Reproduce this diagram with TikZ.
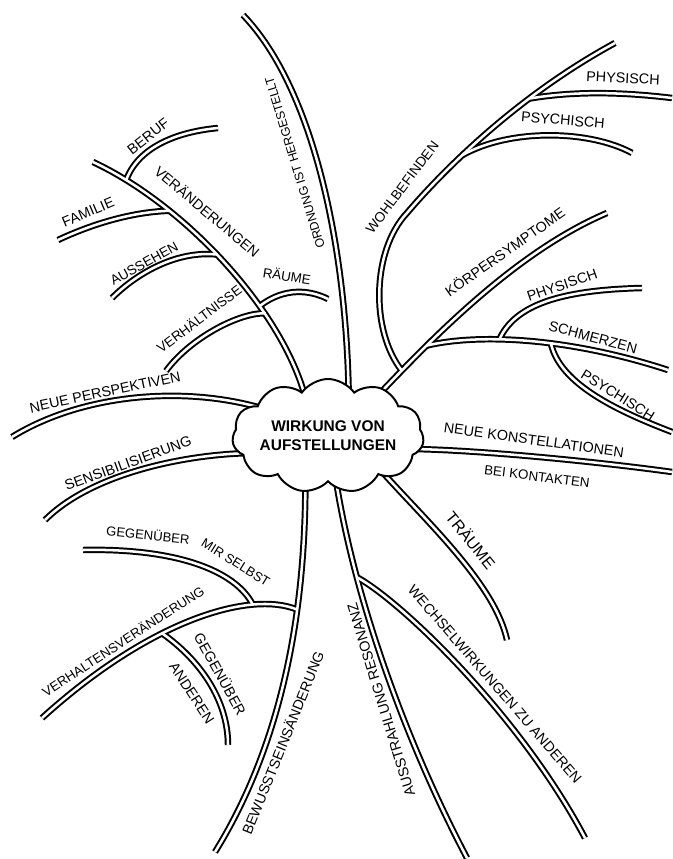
\documentclass[tikz,border=0pt]{standalone}
\usepackage{fontspec}
\newfontfamily\handfont{Liberation Sans}
\usetikzlibrary{shapes.symbols}

\pgfdeclarelayer{grund}
\pgfdeclarelayer{rand}
\pgfdeclarelayer{kanal}
\pgfsetlayers{grund,rand,kanal,main}

\tikzset{
  wolke/.style={cloud, cloud puffs=11, cloud puff arc=110, cloud ignores aspect,
    draw, line width=1.4pt, fill=white, minimum width=4.2cm, minimum height=2.85cm,
    align=center, inner sep=0pt, font=\handfont\bfseries\fontsize{11}{13.5}\selectfont},
  astrand/.style={line width=4.6pt, black},
  astkanal/.style={line width=1.8pt, white},
  vom/.style={shorten <=-6pt},
  lbl/.style={font=\handfont\fontsize{10.2}{12}\selectfont, inner sep=0pt,
    text height=7.3pt, text depth=0pt},
  gr/.style={font=\handfont\fontsize{#1}{12}\selectfont},
}

% Ast doppelt: erst der schwarze Rand, dann der weisse Kanal
\newcommand\zweig[2][]{%
  \begin{pgfonlayer}{rand}\draw[astrand,#1] #2;\end{pgfonlayer}%
  \begin{pgfonlayer}{kanal}\draw[astkanal,#1] #2;\end{pgfonlayer}}

\begin{document}
\begin{tikzpicture}[x=0.025cm, y=-0.025cm]
  \begin{pgfonlayer}{grund}
    \fill[white] (0,0) rectangle (672,859);
  \end{pgfonlayer}
  \useasboundingbox (0,0) rectangle (672,859);

  % Mitte
  \node[wolke] (core) at (328,436) {WIRKUNG VON\\AUFSTELLUNGEN};

  % freie Enden
  \coordinate (ordEnd) at (243,15);
  \coordinate (verEnd) at (93,162);
  \coordinate (berufEnd) at (218,128);
  \coordinate (familieEnd) at (58,240);
  \coordinate (aussehenEnd) at (112,298);
  \coordinate (raeumeEnd) at (328,299);
  \coordinate (verhEnd) at (166,371);
  \coordinate (perspEnd) at (12,437);
  \coordinate (sensEnd) at (45,520);
  \coordinate (bewEnd) at (215,852);
  \coordinate (verhaltEnd) at (42,718);
  \coordinate (selbstEnd) at (83,550);
  \coordinate (anderenEnd) at (228,745);
  \coordinate (ausEnd) at (467,858);
  \coordinate (wechselEnd) at (585,838);
  \coordinate (traeumeEnd) at (507,640);
  \coordinate (konstEnd) at (672,472);
  \coordinate (koerperEnd) at (607,213);
  \coordinate (wohlKnick) at (407,213);
  \coordinate (wohlEnd) at (615,43);
  \coordinate (phyEnd) at (672,98);
  \coordinate (psyEnd) at (632,153);
  \coordinate (schmerzEnd) at (668,370);
  \coordinate (phy2End) at (642,288);
  \coordinate (psy2End) at (672,432);

  % Ordnung
  \zweig[vom]{(core.68) .. controls (346,250) and (315,90) .. (ordEnd)}
  % Veraenderungen mit Unteraesten
  \zweig[vom]{(core.118) .. controls (282,310) and (185,205) .. (verEnd)
    coordinate[pos=0.3] (verhJ) coordinate[pos=0.33] (raeumeJ)
    coordinate[pos=0.53] (aussehenJ) coordinate[pos=0.72] (familieJ)
    coordinate[pos=0.88] (berufJ)}
  \zweig{(berufJ) .. controls (138,148) and (175,132) .. (berufEnd)}
  \zweig{(familieJ) .. controls (130,212) and (90,225) .. (familieEnd)}
  \zweig{(aussehenJ) .. controls (175,250) and (135,275) .. (aussehenEnd)}
  \zweig{(raeumeJ) .. controls (285,287) and (310,290) .. (raeumeEnd)}
  \zweig{(verhJ) .. controls (240,312) and (190,338) .. (verhEnd)}
  % links
  \zweig[vom]{(core.158) .. controls (180,385) and (80,395) .. (perspEnd)}
  \zweig[vom]{(core.191) .. controls (180,455) and (90,475) .. (sensEnd)}
  % Bewusstseinsaenderung
  \zweig[vom]{(core.248) .. controls (305,640) and (272,760) .. (bewEnd)
    coordinate[pos=0.28] (verhaltJ)}
  \zweig{(verhaltJ) .. controls (250,590) and (150,620) .. (verhaltEnd)
    coordinate[pos=0.25] (selbstJ) coordinate[pos=0.61] (anderenJ)}
  \zweig{(selbstJ) .. controls (235,570) and (175,548) .. (selbstEnd)}
  \zweig{(anderenJ) .. controls (200,660) and (228,700) .. (anderenEnd)}
  % Ausstrahlung und Wechselwirkungen
  \zweig[vom]{(core.280) .. controls (355,600) and (405,740) .. (ausEnd)
    coordinate[pos=0.25] (wechselJ)}
  \zweig{(wechselJ) .. controls (400,600) and (520,715) .. (wechselEnd)}
  % rechts unten
  \zweig[vom]{(core.325) .. controls (430,525) and (495,585) .. (traeumeEnd)}
  \zweig[vom]{(core.352) .. controls (480,450) and (600,462) .. (konstEnd)}
  % Koerpersymptome und Wohlbefinden
  \zweig[vom]{(core.40) .. controls (440,330) and (520,250) .. (koerperEnd)
    coordinate[pos=0.1] (wohlJ) coordinate[pos=0.23] (schmerzJ)}
  \zweig{(wohlJ) .. controls (370,330) and (372,250) .. (wohlKnick)
    .. controls (435,180) and (510,100) .. (wohlEnd)
    coordinate[pos=0.4] (psyJ) coordinate[pos=0.7] (phyJ)}
  \zweig{(psyJ) .. controls (510,128) and (590,130) .. (psyEnd)}
  \zweig{(phyJ) .. controls (580,90) and (630,93) .. (phyEnd)}
  \zweig{(schmerzJ) .. controls (480,333) and (570,338) .. (schmerzEnd)
    coordinate[pos=0.37] (phy2J) coordinate[pos=0.58] (psy2J)}
  \zweig{(phy2J) .. controls (515,305) and (560,290) .. (phy2End)}
  \zweig{(psy2J) .. controls (560,385) and (620,412) .. (psy2End)}

  % Beschriftungen
  \node[lbl, gr=8.8, rotate=107] (ordTxt) at (294,163) {ORDNUNG IST HERGESTELLT};
  \node[lbl, rotate=-40] (verTxt) at (207,212) {VERÄNDERUNGEN};
  \node[lbl, rotate=38] (berufTxt) at (148,136) {BERUF};
  \node[lbl, rotate=23] (familieTxt) at (88,212) {FAMILIE};
  \node[lbl, gr=9.7, rotate=29] (aussehenTxt) at (144,263) {AUSSEHEN};
  \node[lbl, gr=9.5, rotate=-9] (raeumeTxt) at (287,276) {RÄUME};
  \node[lbl, gr=9.6, rotate=37] (verhTxt) at (199,319) {VERHÄLTNISSE};
  \node[lbl, rotate=12] (perspTxt) at (105,392) {NEUE PERSPEKTIVEN};
  \node[lbl, rotate=20] (sensTxt) at (128,463) {SENSIBILISIERUNG};
  \node[lbl, gr=9.3, rotate=-6] (selbstTxtA) at (148,535) {GEGENÜBER};
  \node[lbl, gr=9.3, rotate=-32] (selbstTxtB) at (236,562) {MIR SELBST};
  \node[lbl, gr=9.4, rotate=33] (verhaltTxt) at (123,641) {VERHALTENSVERÄNDERUNG};
  \node[lbl, rotate=-61] (anderenTxtA) at (220,674) {GEGENÜBER};
  \node[lbl, rotate=-57] (anderenTxtB) at (192,693) {ANDEREN};
  \node[lbl, rotate=68] (bewTxt) at (283,743) {BEWUSSTSEINSÄNDERUNG};
  \node[lbl, rotate=107] (ausTxt) at (381,700) {AUSSTRAHLUNG RESONANZ};
  \node[lbl, rotate=-49] (wechselTxt) at (495,684) {WECHSELWIRKUNGEN ZU ANDEREN};
  \node[lbl, gr=11.5, rotate=-51] (traeumeTxt) at (470,541) {TRÄUME};
  \node[lbl, rotate=-8] (konstTxtA) at (534,440) {NEUE KONSTELLATIONEN};
  \node[lbl, gr=9.5, rotate=-7] (konstTxtB) at (537,476) {BEI KONTAKTEN};
  \node[lbl, gr=9.8, rotate=53] (wohlTxt) at (402,187) {WOHLBEFINDEN};
  \node[lbl, rotate=-3] (phyTxt) at (623,78) {PHYSISCH};
  \node[lbl, rotate=-5] (psyTxt) at (563,120) {PSYCHISCH};
  \node[lbl, rotate=35] (koerperTxt) at (505,252) {KÖRPERSYMPTOME};
  \node[lbl, rotate=-15] (schmerzTxt) at (593,337) {SCHMERZEN};
  \node[lbl, rotate=19] (phy2Txt) at (562,285) {PHYSISCH};
  \node[lbl, rotate=-32] (psy2Txt) at (618,395) {PSYCHISCH};
\end{tikzpicture}
\end{document}
